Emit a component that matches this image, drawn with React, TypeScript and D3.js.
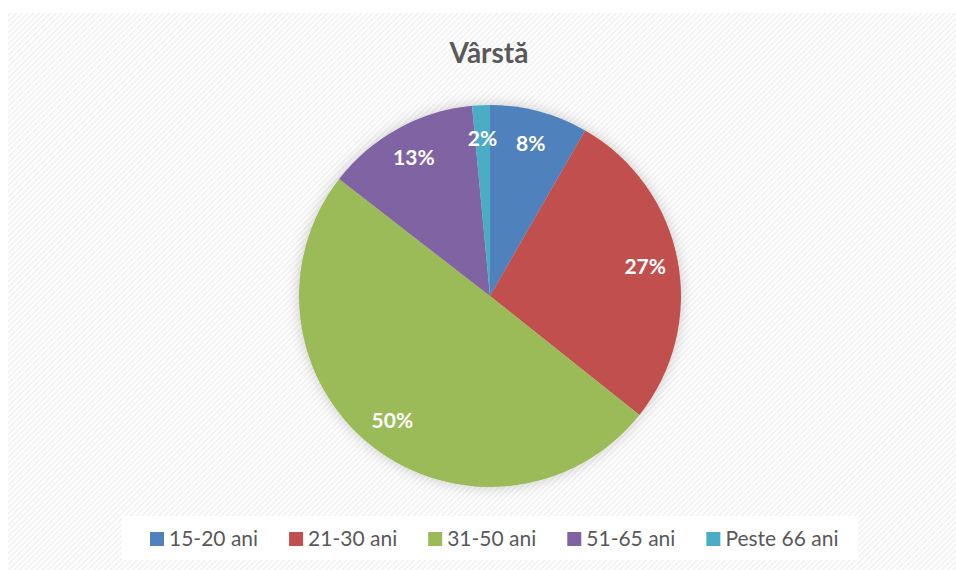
import React, { useEffect, useRef } from 'react';
import * as d3 from 'd3';

const categories = ['15-20 ani', '21-30 ani', '31-50 ani', '51-65 ani', 'Peste 66 ani'];
const values = [8.3, 27.4, 49.8, 13.0, 1.5];
const colors = ['#4F81BD', '#C0504D', '#9BBB59', '#8064A2', '#4BACC6'];
const title = 'Vârstă';

const W = 956, H = 570;
const font = "Lato, 'Open Sans', sans-serif";

export default function App() {
  const ref = useRef<SVGSVGElement>(null);

  useEffect(() => {
    const svg = d3.select(ref.current);
    svg.selectAll('*').remove();

    const defs = svg.append('defs');
    const pat = defs.append('pattern')
      .attr('id', 'hatch')
      .attr('width', 4).attr('height', 4)
      .attr('patternUnits', 'userSpaceOnUse')
      .attr('patternTransform', 'rotate(45)');
    pat.append('rect').attr('width', 4).attr('height', 4).attr('fill', '#ffffff');
    pat.append('rect').attr('x', 0).attr('width', 2).attr('height', 4).attr('fill', '#f3f3f3');

    const f = defs.append('filter').attr('id', 'shadow')
      .attr('x', '-20%').attr('y', '-20%').attr('width', '140%').attr('height', '140%');
    f.append('feDropShadow').attr('dx', 0).attr('dy', 0)
      .attr('stdDeviation', 7).attr('flood-color', '#000').attr('flood-opacity', 0.2);

    // background
    svg.append('rect').attr('width', W).attr('height', H).attr('fill', '#fff');
    svg.append('rect').attr('x', 8).attr('y', 13).attr('width', W - 8).attr('height', H - 13)
      .attr('fill', 'url(#hatch)');

    // title
    svg.append('text')
      .attr('x', 489).attr('y', 63)
      .attr('text-anchor', 'middle')
      .style('font-family', font).style('font-weight', 700).style('font-size', '28px')
      .attr('fill', '#595959')
      .text(title);

    // pie
    const cx = 490, cy = 296, r = 191;
    const pie = d3.pie<number>().sort(null).value(d => d);
    const arcs = pie(values);
    const arc = d3.arc<d3.PieArcDatum<number>>().innerRadius(0).outerRadius(r);
    const labelArc = d3.arc<d3.PieArcDatum<number>>().innerRadius(158).outerRadius(158);
    const total = d3.sum(values);

    const g = svg.append('g').attr('transform', `translate(${cx}, ${cy})`);
    g.append('g').attr('filter', 'url(#shadow)')
      .selectAll('path').data(arcs).join('path')
      .attr('d', arc)
      .attr('fill', (d, i) => colors[i]);

    g.selectAll('.lbl').data(arcs).join('text')
      .attr('class', 'lbl')
      .attr('transform', d => `translate(${labelArc.centroid(d)})`)
      .attr('text-anchor', 'middle')
      .attr('dy', '0.36em')
      .style('font-family', font).style('font-weight', 700).style('font-size', '21px')
      .attr('fill', '#fff')
      .text(d => `${Math.round(d.data / total * 100)}%`);

    // legend
    svg.append('rect').attr('x', 122).attr('y', 516).attr('width', 736).attr('height', 44)
      .attr('fill', '#fff');
    const lg = svg.append('g');
    let x = 150;
    categories.forEach((c, i) => {
      lg.append('rect').attr('x', x).attr('y', 532).attr('width', 14).attr('height', 14)
        .attr('fill', colors[i]);
      const t = lg.append('text')
        .attr('x', x + 19).attr('y', 546)
        .style('font-family', font).style('font-size', '21px')
        .attr('fill', '#595959')
        .text(c);
      const w = (t.node() as SVGTextElement).getComputedTextLength();
      x += 14 + 5 + w + 31;
    });
  }, []);

  return (
    <div style={{ position: 'absolute', left: 0, top: 0 }}>
      <svg ref={ref} width={W} height={H} style={{ display: 'block' }} />
    </div>
  );
}
